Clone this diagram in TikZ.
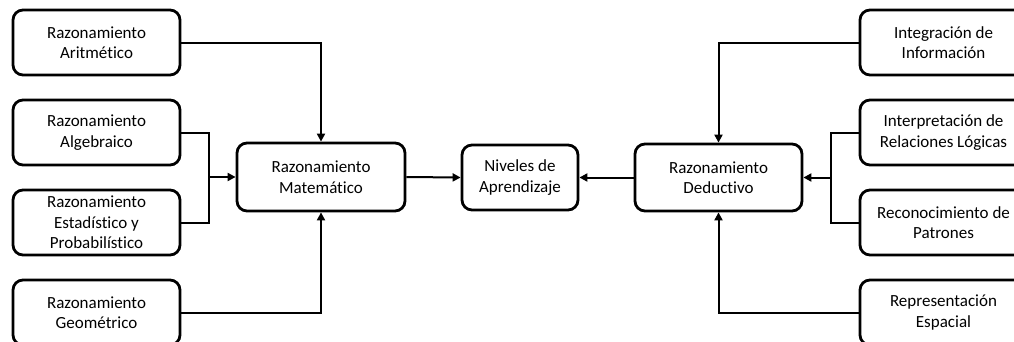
\documentclass[tikz,border=0pt]{standalone}
\usepackage{fontspec}
\setmainfont{Carlito}[Ligatures={TeX,NoCommon}]
\usetikzlibrary{arrows.meta}
\begin{document}
\begin{tikzpicture}[x=1pt,y=-1pt,
  box/.style={draw, line width=2.8pt, rounded corners=10pt, align=center,
    font=\fontsize{17}{20.5}\selectfont, inner sep=0pt, minimum width=167pt, minimum height=65pt},
  conn/.style={line width=2pt},
  arr/.style={conn, -{Triangle[length=8pt,width=8pt]}}]
\useasboundingbox (0,0) rectangle (1014,341);
\clip (0,0) rectangle (1014,341);
% left column
\node[box] (a1) at (96.5,42.5) {Razonamiento\\Aritmético};
\node[box] (a2) at (96.5,132.5) {Razonamiento\\Algebraico};
\node[box] (a3) at (96.5,222.5) {Razonamiento\\Estadístico y\\Probabilístico};
\node[box] (a4) at (96.5,312.5) {Razonamiento\\Geométrico};
% centre
\node[box, minimum width=168pt, minimum height=68pt] (mat) at (321,177) {Razonamiento\\Matemático};
\node[box, minimum width=116pt] (niv) at (520,177.5) {Niveles de\\Aprendizaje};
\node[box, minimum height=67pt] (ded) at (718.5,177.5) {Razonamiento\\Deductivo};
% right column
\node[box] (b1) at (943.5,42.5) {Integración de\\Información};
\node[box] (b2) at (943.5,132.5) {Interpretación de\\Relaciones Lógicas};
\node[box] (b3) at (943.5,222.5) {Reconocimiento de\\Patrones};
\node[box] (b4) at (943.5,312.5) {Representación\\Espacial};
% junctions
\coordinate (jL) at (209,177);
\coordinate (jR) at (831,177.5);
% connectors left
\draw[arr] (a1.east) -| (mat.north);
\draw[conn] (a2.east) -| (jL) |- (a3.east);
\draw[arr] (jL) -- (mat.west);
\draw[arr] (a4.east) -| (mat.south);
% centre
\draw[arr] (mat.east) -- (niv.west);
\draw[arr] (ded.west) -- (niv.east);
% connectors right
\draw[arr] (b1.west) -| (ded.north);
\draw[conn] (b2.west) -| (jR) |- (b3.west);
\draw[arr] (jR) -- (ded.east);
\draw[arr] (b4.west) -| (ded.south);
\end{tikzpicture}
\end{document}
